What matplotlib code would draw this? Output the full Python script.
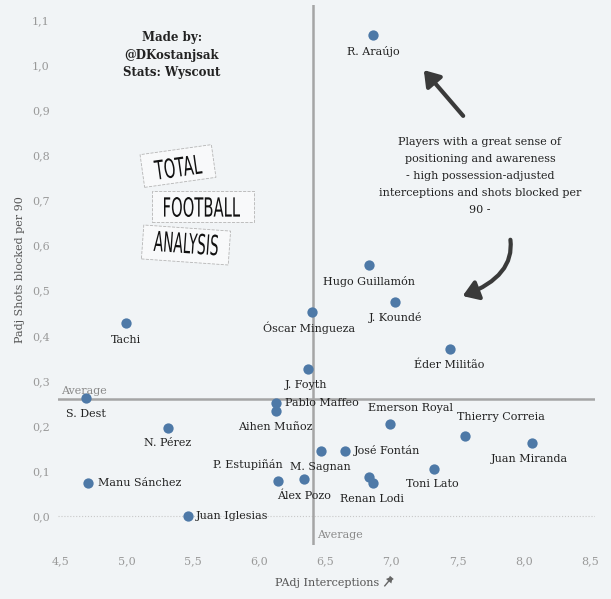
import numpy as np
import matplotlib
matplotlib.use("Agg")
import matplotlib.pyplot as plt
from matplotlib.ticker import FuncFormatter, MultipleLocator
from matplotlib.textpath import TextPath
from matplotlib.patches import PathPatch, Rectangle, FancyArrowPatch, Polygon
from matplotlib.lines import Line2D
from matplotlib.font_manager import FontProperties
from matplotlib.transforms import Affine2D, IdentityTransform

players = ["R. Araújo", "Hugo Guillamón", "J. Koundé", "Óscar Mingueza", "Tachi",
           "Éder Militão", "J. Foyth", "S. Dest", "Pablo Maffeo", "Aihen Muñoz",
           "N. Pérez", "Emerson Royal", "Thierry Correia", "Juan Miranda", "M. Sagnan",
           "José Fontán", "Toni Lato", "", "Renan Lodi", "Manu Sánchez",
           "P. Estupiñán", "Álex Pozo", "Juan Iglesias"]
interceptions = [6.86, 6.83, 7.03, 6.40, 4.99,
                 7.44, 6.37, 4.69, 6.13, 6.13,
                 5.31, 6.99, 7.56, 8.06, 6.47,
                 6.65, 7.32, 6.83, 6.86, 4.71,
                 6.14, 6.34, 5.46]
shots_blocked = [1.069, 0.556, 0.476, 0.453, 0.429,
                 0.371, 0.327, 0.262, 0.251, 0.233,
                 0.196, 0.204, 0.178, 0.162, 0.144,
                 0.144, 0.104, 0.087, 0.073, 0.073,
                 0.078, 0.082, 0.0]
avg_interceptions = 6.41
avg_shots_blocked = 0.26

# label offsets in pixels (dx, dy), positive dy = up
label_pos = {
    "R. Araújo": (0, -17, "center"), "Hugo Guillamón": (0, -16, "center"),
    "J. Koundé": (0, -16, "center"), "Óscar Mingueza": (-3, -16, "center"),
    "Tachi": (0, -17, "center"), "Éder Militão": (0, -16, "center"),
    "J. Foyth": (-2, -16, "center"), "S. Dest": (0, -16, "center"),
    "Pablo Maffeo": (9, 0, "left"), "Aihen Muñoz": (-1, -16, "center"),
    "N. Pérez": (0, -15, "center"), "Emerson Royal": (20, 16, "center"),
    "Thierry Correia": (35, 19, "center"), "Juan Miranda": (-2, -16, "center"),
    "M. Sagnan": (-1, -16, "center"), "José Fontán": (9, 0, "left"),
    "Toni Lato": (-1, -15, "center"), "Renan Lodi": (-1, -16, "center"),
    "Manu Sánchez": (10, 0, "left"), "P. Estupiñán": (-30, 16, "center"),
    "Álex Pozo": (0, -17, "center"), "Juan Iglesias": (8, 0, "left"),
}

W, H = 611, 599
bg = "#f1f4f6"
serif = ["DejaVu Serif"]

fig = plt.figure(figsize=(W / 100, H / 100), dpi=100, facecolor=bg)
ax = fig.add_axes([0.095, 0.09, 0.879, 0.902], facecolor=bg)

ax.axhline(0, color="#c8c8c8", lw=0.8, ls=":", zorder=1)
ax.axvline(avg_interceptions, color="#a5a5a5", lw=1.8, zorder=2)
ax.axhline(avg_shots_blocked, color="#a5a5a5", lw=1.8, zorder=2)

ax.scatter(interceptions, shots_blocked, s=55, color="#4e79a7", zorder=3, linewidths=0)

for name, x, y in zip(players, interceptions, shots_blocked):
    if not name:
        continue
    dx, dy, ha = label_pos[name]
    ax.annotate(name, (x, y), xytext=(dx * 0.72, dy * 0.72), textcoords="offset points",
                ha=ha, va="center", fontsize=8, family=serif, color="#222222", zorder=4)

ax.set_xlim(4.48, 8.54)
ax.set_ylim(-0.065, 1.135)
ax.xaxis.set_major_locator(MultipleLocator(0.5))
ax.yaxis.set_major_locator(MultipleLocator(0.1))
fmt = FuncFormatter(lambda v, p: f"{v:.1f}".replace(".", ","))
ax.xaxis.set_major_formatter(fmt)
ax.yaxis.set_major_formatter(fmt)
ax.tick_params(length=0, labelsize=8, labelcolor="#999999")
ax.tick_params(axis="x", pad=8)
ax.tick_params(axis="y", pad=6)
for lab in ax.get_xticklabels() + ax.get_yticklabels():
    lab.set_family(serif)
for s in ax.spines.values():
    s.set_visible(False)

ax.text(4.50, avg_shots_blocked + 0.006, "Average", fontsize=8, family=serif,
        color="#8a8a8a", va="bottom", ha="left")
ax.text(avg_interceptions + 0.03, -0.042, "Average", fontsize=8, family=serif,
        color="#8a8a8a", va="center", ha="left")

fig.text(20 / W, 1 - 270 / H, "Padj Shots blocked per 90", rotation=90,
         ha="center", va="center", fontsize=8, family=serif, color="#555555")
fig.text(327 / W, 1 - 583 / H, "PAdj Interceptions", ha="center", va="center",
         fontsize=8, family=serif, color="#555555")

# small pin icon after the x label
pin_tr = Affine2D().rotate_deg(-40).translate(388, H - 582)
fig.add_artist(Polygon([(-3.5, 1), (3.5, 1), (2, 4), (2.5, 6), (-2.5, 6), (-2, 4)],
                       closed=True, transform=pin_tr, fc="#666666", ec="none"))
fig.add_artist(Line2D([0, 0], [1, -5], transform=pin_tr, color="#666666", lw=1))

fig.text(172 / W, 1 - 55 / H, "Made by:\n@DKostanjsak\nStats: Wyscout", ha="center",
         va="center", fontsize=8.5, family=serif, weight="bold", color="#222222",
         linespacing=1.45)

fig.text(480 / W, 1 - 176 / H,
         "Players with a great sense of\npositioning and awareness\n- high possession-adjusted\n"
         "interceptions and shots blocked per\n90 -",
         ha="center", va="center", fontsize=8, family=serif, color="#222222", linespacing=1.85)

# arrows
fig.patches.append(FancyArrowPatch(
    (465 / W, 1 - 118 / H), (422 / W, 1 - 68 / H), transform=fig.transFigure,
    arrowstyle="-|>,head_length=6,head_width=4", lw=3, color="#3a3a3a",
    mutation_scale=1.5))
fig.patches.append(FancyArrowPatch(
    (510 / W, 1 - 237 / H), (460 / W, 1 - 297 / H), transform=fig.transFigure,
    connectionstyle="angle3,angleA=-80,angleB=20",
    arrowstyle="-|>,head_length=6,head_width=4", lw=3, color="#3a3a3a",
    mutation_scale=1.5))

# logo: word, text centre, text size, box centre, box size, rotation (pixels)
logo = [("TOTAL", (178, 167), (47, 20), (178, 166), (72, 33), 8),
        ("FOOTBALL", (202, 207), (76, 20), (203, 206), (102, 31), 0),
        ("ANALYSIS", (186, 243), (64, 21), (186, 245), (87, 34), -4)]
fp = FontProperties(family="DejaVu Sans")
for word, (tx, ty), (tw, th), (bx, by), (bw, bh), rot in logo:
    box_tr = Affine2D().rotate_deg(rot).translate(bx, H - by)
    fig.add_artist(Rectangle((-bw / 2, -bh / 2), bw, bh, transform=box_tr,
                             fc="#f8f9fa", ec="#b5b5b5", ls="--", lw=0.6))
    tp = TextPath((0, 0), word, size=20, prop=fp)
    ext = tp.get_extents()
    tr = (Affine2D().translate(-ext.x0 - ext.width / 2, -ext.y0 - ext.height / 2)
          .scale(tw / ext.width, th / ext.height).rotate_deg(rot).translate(tx, H - ty))
    fig.add_artist(PathPatch(tp, transform=tr, fc="#111111", ec="none"))

fig.savefig("out.png", dpi=100, facecolor=bg)
